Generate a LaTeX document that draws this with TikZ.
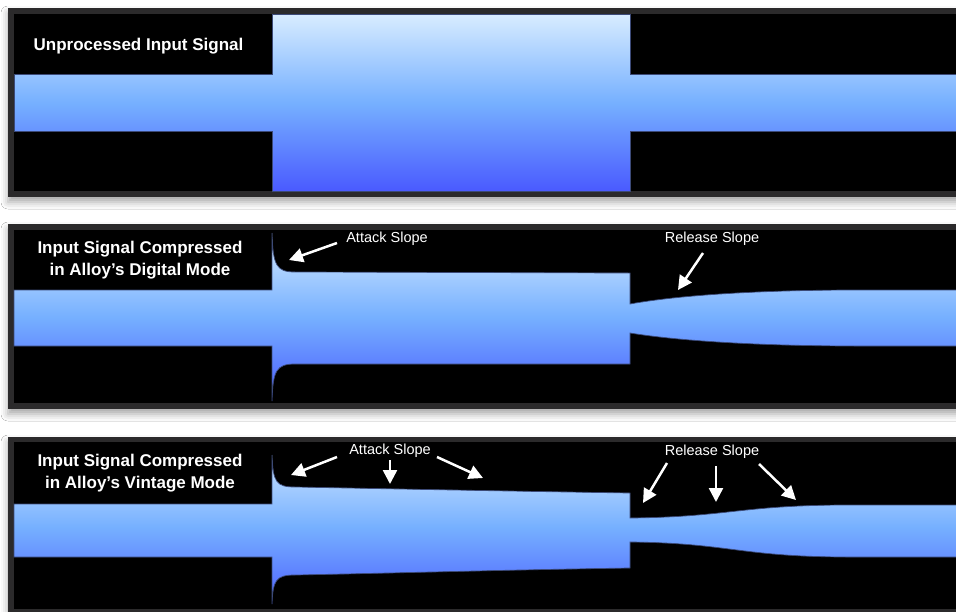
\documentclass[tikz,border=0pt]{standalone}
\usepackage{fontspec}
\setmainfont{Liberation Sans}
\usetikzlibrary{arrows.meta,shadows.blur}
\definecolor{frame}{HTML}{2B2A2B}
\definecolor{gtop}{HTML}{D8ECFF}
\definecolor{gmid}{HTML}{76B0FF}
\definecolor{gbot}{HTML}{4A5AFF}
\definecolor{edgec}{HTML}{3C4A78}
\begin{document}
\begin{tikzpicture}[x=1pt,y=-1pt,
  panel/.style={fill=frame, blur shadow={shadow xshift=0pt, shadow yshift=-5pt, shadow blur radius=7pt, shadow opacity=35}},
  inner/.style={fill=black},
  sig/.style={top color=gtop, bottom color=gbot, middle color=gmid},
  sigedge/.style={draw=edgec, line width=0.7pt},
  arr/.style={draw=white, line width=2.5pt, -{Triangle[length=14pt,width=14pt]}},
  lab/.style={text=white, font=\fontsize{14.5}{16}\selectfont, inner sep=0pt},
  ttl/.style={text=white, font=\bfseries\fontsize{17}{22}\selectfont, align=center, inner sep=0pt}]
\useasboundingbox (0,0) rectangle (956,611);
\fill[white] (0,0) rectangle (956,611);

% ---------- Panel 1
\fill[panel] (8,8) rectangle (975,197);
\fill[inner] (14,14) rectangle (975,191);
\def\shapeA{(14,74) -- (272,74) -- (272,14) -- (630,14) -- (630,74) -- (960,74) -- (960,131) -- (630,131) -- (630,191) -- (272,191) -- (272,131) -- (14,131) -- cycle}
\begin{scope}
  \clip \shapeA;
  \shade[sig] (14,14) rectangle (960,191);
\end{scope}
\draw[sigedge] \shapeA;
\node[ttl] (t1) at (138.5,46) {Unprocessed Input Signal};

% ---------- Panel 2
\fill[panel] (8,224) rectangle (975,409);
\fill[inner] (14,230) rectangle (975,403);
\def\shapeB{(14,290) -- (272,290) -- (272,233) .. controls (273,265) and (276,272) .. (295,272) -- (630,273) -- (630,304) .. controls (680,295) and (760,290) .. (860,290) -- (960,290) -- (960,346) -- (860,346) .. controls (760,346) and (680,341) .. (630,333) -- (630,364) -- (295,364) .. controls (276,364) and (273,371) .. (272,401) -- (272,346) -- (14,346) -- cycle}
\begin{scope}
  \clip \shapeB;
  \shade[sig] (14,230) rectangle (960,403);
\end{scope}
\draw[sigedge] \shapeB;
\node[ttl] (t2) at (140,260) {Input Signal Compressed\\in Alloy's Digital Mode};
\node[lab] (att2) at (387,239) {Attack Slope};
\node[lab] (rel2) at (712,239) {Release Slope};
\coordinate (att2a) at (337,243);
\coordinate (att2b) at (289,260);
\coordinate (rel2a) at (703,253);
\coordinate (rel2b) at (678,290);
\draw[arr] (att2a) -- (att2b);
\draw[arr] (rel2a) -- (rel2b);

% ---------- Panel 3
\fill[panel] (8,437) rectangle (975,616);
\fill[inner] (14,442) rectangle (975,609);
\def\shapeC{(14,504) -- (272,504) -- (272,455) .. controls (273,482) and (276,487) .. (295,487) .. controls (400,489) and (500,491) .. (630,493) -- (630,518) .. controls (730,517) and (740,505) .. (850,505) -- (960,505) -- (960,557) -- (850,557) .. controls (740,557) and (730,543) .. (630,542) -- (630,568) .. controls (500,570) and (400,573) .. (295,575) .. controls (276,575) and (273,580) .. (272,604) -- (272,557) -- (14,557) -- cycle}
\begin{scope}
  \clip \shapeC;
  \shade[sig] (14,442) rectangle (960,612);
\end{scope}
\draw[sigedge] \shapeC;
\node[ttl] (t3) at (140,473) {Input Signal Compressed\\in Alloy's Vintage Mode};
\node[lab] (att3) at (390,451) {Attack Slope};
\node[lab] (rel3) at (712,452) {Release Slope};
\coordinate (att3a) at (337,457);
\coordinate (att3b) at (291,475);
\coordinate (att3c) at (390,460);
\coordinate (att3d) at (390,484);
\coordinate (att3e) at (437,457);
\coordinate (att3f) at (483,478);
\coordinate (rel3a) at (667,463);
\coordinate (rel3b) at (643,503);
\coordinate (rel3c) at (716,466);
\coordinate (rel3d) at (716,502);
\coordinate (rel3e) at (759,464);
\coordinate (rel3f) at (796,500);
\draw[arr] (att3a) -- (att3b);
\draw[arr] (att3c) -- (att3d);
\draw[arr] (att3e) -- (att3f);
\draw[arr] (rel3a) -- (rel3b);
\draw[arr] (rel3c) -- (rel3d);
\draw[arr] (rel3e) -- (rel3f);
\end{tikzpicture}
\end{document}
